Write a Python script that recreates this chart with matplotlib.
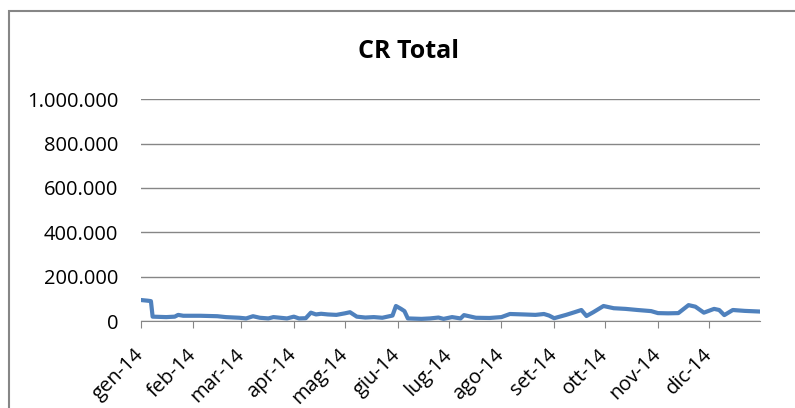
import matplotlib
matplotlib.use("Agg")
import matplotlib.pyplot as plt
from matplotlib.ticker import FuncFormatter
from matplotlib.patches import Rectangle
import pandas as pd

# giorno dell'anno (0 = 1 gen 2014) e valore in migliaia
days = [0, 4, 6, 7, 15, 20, 22, 25, 35, 45, 50, 58, 62, 66, 70, 75, 78, 82, 86,
        90, 93, 97, 100, 103, 106, 110, 115, 120, 123, 127, 132, 137, 142, 145,
        148, 150, 153, 155, 157, 165, 170, 175, 178, 183, 188, 190, 197, 205,
        212, 217, 225, 232, 237, 240, 243, 250, 255, 259, 262, 266, 272, 278,
        285, 292, 300, 304, 310, 316, 322, 326, 331, 337, 340, 343, 348, 355, 364]
values_k = [95, 92, 90, 20, 18, 20, 28, 24, 24, 22, 18, 15, 12, 22, 15, 12, 18,
            15, 12, 20, 12, 13, 38, 30, 33, 30, 28, 35, 40, 20, 16, 18, 15, 20,
            25, 68, 55, 45, 12, 10, 12, 16, 10, 18, 12, 27, 15, 14, 18, 32, 30,
            28, 32, 25, 13, 28, 40, 50, 23, 40, 68, 58, 55, 50, 45, 36, 35, 36,
            72, 65, 38, 55, 50, 27, 50, 46, 43]
month_labels = ["gen-14", "feb-14", "mar-14", "apr-14", "mag-14", "giu-14",
                "lug-14", "ago-14", "set-14", "ott-14", "nov-14", "dic-14"]

dates = pd.Timestamp("2014-01-01") + pd.to_timedelta(days, unit="D")
values = [v * 1000 for v in values_k]

plt.rcParams["font.family"] = ["Open Sans", "DejaVu Sans"]

fig = plt.figure(figsize=(7.95, 4.08), dpi=100)
# bordo dell'area grafico (esce a destra e in basso come nell'originale)
fig.patches.append(Rectangle((9 / 795, -0.1), 1.2, 1.1 - 11 / 408,
                             transform=fig.transFigure, fill=False,
                             edgecolor="#868686", lw=1.5))
ax = fig.add_axes([0.177, 0.213, 0.779, 0.544])
ax.plot(dates, values, color="#4F81BD", lw=3, solid_joinstyle="round")

ax.set_ylim(0, 1_000_000)
ax.set_yticks(range(0, 1_000_001, 200_000))
ax.yaxis.set_major_formatter(FuncFormatter(lambda v, _: f"{int(v):,}".replace(",", ".")))
ax.set_xlim(pd.Timestamp("2014-01-01"), pd.Timestamp("2014-12-31"))
ticks = pd.date_range("2014-01-01", periods=12, freq="MS")
ax.set_xticks(ticks)
ax.set_xticklabels(month_labels, rotation=45, ha="right", va="center",
                   rotation_mode="anchor")

ax.grid(axis="y", color="#868686", lw=1)
ax.set_axisbelow(True)
for s in ["left", "right", "top"]:
    ax.spines[s].set_visible(False)
ax.spines["bottom"].set_color("#868686")
ax.tick_params(axis="y", length=0, labelsize=14.5, pad=16)
ax.tick_params(axis="x", length=5, color="#868686", labelsize=14.5,
               direction="out", pad=17)
fig.text(408 / 795, 1 - 51 / 408, "CR Total", fontsize=18, fontweight="bold",
         ha="center", va="center")

fig.savefig("out.png", dpi=100)
